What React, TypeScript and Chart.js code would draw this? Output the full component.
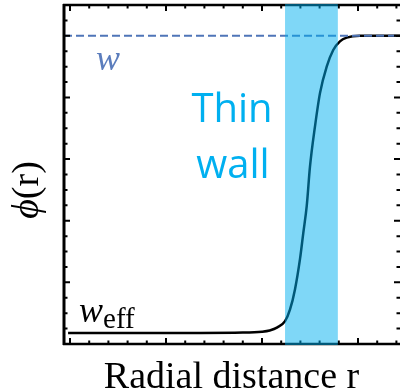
import React, { useEffect, useRef } from "react";
import { Chart, registerables } from "chart.js";

Chart.register(...registerables);

// Axis ranges (data units)
const xRange = [-0.3125, 17.1875];
const yRange = [0, 5.5];

// Tick positions (no labels shown in the reference)
const xMajorTicks = [0, 5, 10, 15];
const xMinorTicks = [1, 2, 3, 4, 6, 7, 8, 9, 11, 12, 13, 14, 16, 17];
const yMajorTicks = [0, 1, 2, 3, 4, 5];
const yMinorTicks = [0.25, 0.5, 0.75, 1.25, 1.5, 1.75, 2.25, 2.5, 2.75, 3.25, 3.5, 3.75, 4.25, 4.5, 4.75, 5.25, 5.5];

// Field profile phi(r)
const curveX = [-0.1, 3, 6.8, 9.0, 10.0, 10.4, 10.8, 11.2, 11.46, 11.72, 11.98, 12.15, 12.33, 12.5, 12.76, 13.02, 13.37, 13.71, 14.06, 14.41, 15.1, 17.19];
const curveY = [0.18, 0.18, 0.18, 0.185, 0.2, 0.22, 0.27, 0.37, 0.56, 0.89, 1.38, 1.8, 2.24, 2.88, 3.53, 4.07, 4.5, 4.77, 4.91, 4.97, 5.0, 5.0];

// Vacuum value w (dashed line)
const wLevel = 5;
const wLineX = [-0.3125, 17.1875];

// Thin wall band
const wallRange = [11.2, 13.95];

const SERIF = "'Liberation Serif', 'Times New Roman', serif";
const SANS = "'Open Sans', 'Noto Sans', sans-serif";

const decorPlugin = {
  id: "decor",
  afterDraw(chart: any) {
    const { ctx, chartArea } = chart;
    const xs = chart.scales.x;
    const ys = chart.scales.y;
    const { left, right, top, bottom } = chartArea;
    ctx.save();

    // frame (left, top, bottom; right edge is outside the picture)
    ctx.strokeStyle = "#000";
    ctx.lineWidth = 3;
    ctx.beginPath();
    ctx.moveTo(left, top - 1);
    ctx.lineTo(left, bottom + 1);
    ctx.stroke();
    ctx.lineWidth = 2.5;
    ctx.beginPath();
    ctx.moveTo(left - 1, top);
    ctx.lineTo(right, top);
    ctx.moveTo(left - 1, bottom);
    ctx.lineTo(right, bottom);
    ctx.stroke();

    // inward ticks
    ctx.lineWidth = 2;
    const xt = (vals: number[], len: number) => {
      for (const v of vals) {
        const p = xs.getPixelForValue(v);
        ctx.beginPath();
        ctx.moveTo(p, top);
        ctx.lineTo(p, top + len);
        ctx.moveTo(p, bottom);
        ctx.lineTo(p, bottom - len);
        ctx.stroke();
      }
    };
    const yt = (vals: number[], len: number) => {
      for (const v of vals) {
        const p = ys.getPixelForValue(v);
        ctx.beginPath();
        ctx.moveTo(left, p);
        ctx.lineTo(left + len, p);
        ctx.moveTo(right, p);
        ctx.lineTo(right - len, p);
        ctx.stroke();
      }
    };
    xt(xMajorTicks, 6);
    xt(xMinorTicks, 3.5);
    yt(yMajorTicks, 6);
    yt(yMinorTicks, 3.5);

    // thin wall band (translucent overlay)
    const bx0 = xs.getPixelForValue(wallRange[0]);
    const bx1 = xs.getPixelForValue(wallRange[1]);
    ctx.fillStyle = "rgba(0,176,240,0.5)";
    ctx.fillRect(bx0, top - 1, bx1 - bx0, bottom - top + 2);

    // texts
    ctx.fillStyle = "#00b0f0";
    ctx.font = `40px ${SANS}`;
    ctx.textAlign = "center";
    ctx.textBaseline = "alphabetic";
    ctx.fillText("Thin", 232, 122);
    ctx.fillText("wall", 233, 178);

    ctx.textAlign = "left";
    ctx.fillStyle = "#5b7dbd";
    ctx.font = `italic 36px ${SERIF}`;
    ctx.fillText("w", 96, 70);

    ctx.fillStyle = "#000";
    ctx.font = `italic 36px ${SERIF}`;
    ctx.fillText("w", 79, 322);
    const ww = ctx.measureText("w").width;
    ctx.font = `29px ${SERIF}`;
    ctx.fillText("eff", 79 + ww, 328);

    // x axis title
    ctx.textAlign = "center";
    ctx.font = `38px ${SERIF}`;
    ctx.fillText("Radial distance r", 231.5, 388);

    // y axis title (rotated)
    ctx.save();
    ctx.translate(38, 190);
    ctx.rotate(-Math.PI / 2);
    ctx.font = `italic 38px ${SERIF}`;
    const phiW = ctx.measureText("\u03d5").width;
    ctx.font = `38px ${SERIF}`;
    const restW = ctx.measureText("(r)").width;
    const total = phiW + restW;
    ctx.textAlign = "left";
    ctx.font = `italic 38px ${SERIF}`;
    ctx.fillText("\u03d5", -total / 2, 0);
    ctx.font = `38px ${SERIF}`;
    ctx.fillText("(r)", -total / 2 + phiW, 0);
    ctx.restore();

    ctx.restore();
  },
};

export default function App() {
  const ref = useRef<HTMLCanvasElement | null>(null);
  useEffect(() => {
    if (!ref.current) return;
    const chart = new Chart(ref.current, {
      type: "line",
      data: {
        datasets: [
          {
            data: wLineX.map((x) => ({ x, y: wLevel })),
            borderColor: "#4f75b8",
            borderWidth: 2,
            borderDash: [8, 4],
            pointRadius: 0,
            fill: false,
          },
          {
            data: curveX.map((x, i) => ({ x, y: curveY[i] })),
            borderColor: "#000",
            borderWidth: 2.5,
            pointRadius: 0,
            cubicInterpolationMode: "monotone",
            fill: false,
          },
        ],
      },
      options: {
        animation: false,
        responsive: true,
        maintainAspectRatio: false,
        layout: { padding: { left: 64, top: 5, right: 0, bottom: 48 } },
        plugins: { legend: { display: false }, tooltip: { enabled: false } },
        scales: {
          x: { type: "linear", min: xRange[0], max: xRange[1], display: false },
          y: { type: "linear", min: yRange[0], max: yRange[1], display: false },
        },
      },
      plugins: [decorPlugin],
    } as any);
    return () => chart.destroy();
  }, []);
  return (
    <div style={{ position: "absolute", left: 0, top: 0, width: 400, height: 392, background: "#fff" }}>
      <canvas ref={ref} />
    </div>
  );
}
